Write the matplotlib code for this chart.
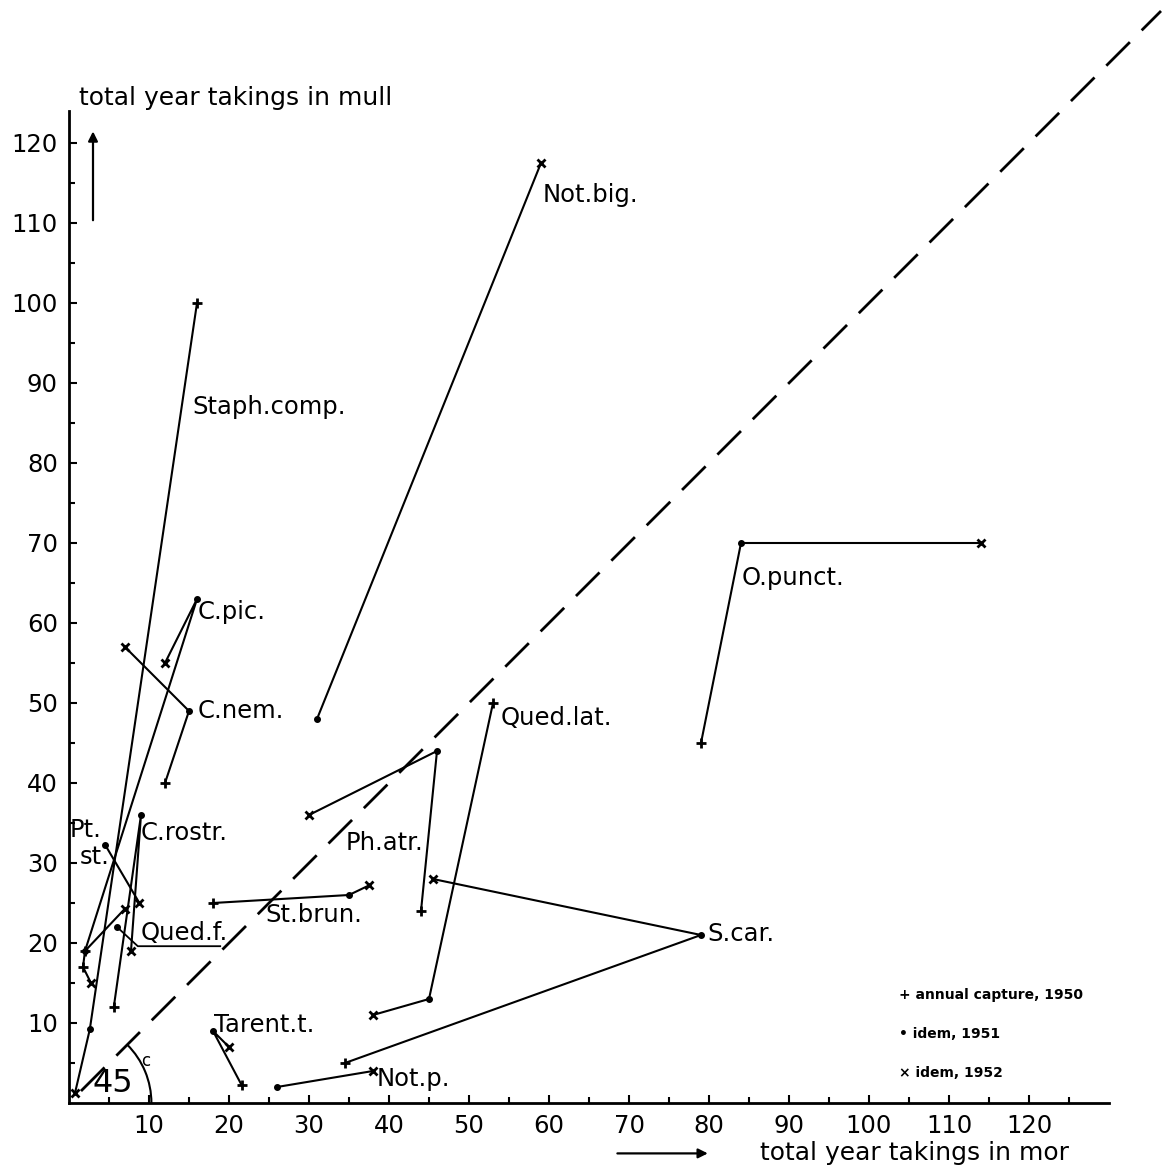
import numpy as np
import matplotlib.pyplot as plt
from matplotlib.patches import Arc

# annual captures per species: mor (x) vs mull (y); year code 0=1950, 1=1951, 2=1952
names = ['Staph.comp.', 'C.pic.', 'C.nem.', 'C.rostr.', 'Pt. st.', 'Qued.f.',
         'St.brun.', 'Ph.atr.', 'Qued.lat.', 'S.car.', 'O.punct.', 'Tarent.t.',
         'Not.p.', 'Not.big.']
mor = [[16, 2.6, 0.75], [2, 16, 12], [12, 15, 7], [5.6, 9, 7.75], [4.5, 8.8],
       [2.75, 1.75, 2.0, 7.0], [18, 35, 37.5], [44, 46, 30], [53, 45, 38],
       [34.5, 79, 45.5], [79, 84, 114], [21.6, 18, 20], [26, 38], [31, 59]]
mull = [[100, 9.2, 1.25], [19, 63, 55], [40, 49, 57], [12, 36, 19], [32.3, 25],
        [15, 17, 19, 24.3], [25, 26, 27.2], [24, 44, 36], [50, 13, 11],
        [5, 21, 28], [45, 70, 70], [2.2, 9, 7], [2, 4], [48, 117.5]]
years = [[0, 1, 2], [0, 1, 2], [0, 1, 2], [0, 1, 2], [1, 2],
         [2, 0, 1, 2], [0, 1, 2], [0, 1, 2], [0, 1, 2],
         [0, 1, 2], [0, 1, 2], [0, 1, 2], [1, 2], [1, 2]]

# label anchors (left edge, vertical centre)
label_x = [15.4, 16.1, 16.1, 9.0, None, 8.9, 24.6, 34.6, 54.0, 79.8, 84.1, 18.1, 38.5, 59.2]
label_y = [87, 61.4, 49, 33.75, None, 21.3, 23.5, 32.5, 48.1, 21.1, 65.6, 9.75, 3.0, 113.5]

ticks = np.arange(10, 130, 10)
legend_txt = ['+ annual capture, 1950', '\u2022 idem, 1951', '\u00d7 idem, 1952']

plt.rcParams['font.family'] = 'DejaVu Sans'
fig = plt.figure(figsize=(11.68, 11.68), dpi=100)
ax = fig.add_axes([69 / 1168, 65 / 1168, 1040 / 1168, 992 / 1168])
ax.set_xlim(0, 130)
ax.set_ylim(0, 124)

for s in ['top', 'right']:
    ax.spines[s].set_visible(False)
for s in ['left', 'bottom']:
    ax.spines[s].set_linewidth(2)

ax.set_xticks(ticks)
ax.set_yticks(ticks)
ax.set_xticks(np.arange(5, 130, 10), minor=True)
ax.set_yticks(np.arange(5, 125, 10), minor=True)
ax.tick_params(which='major', direction='in', length=6, width=1.5, labelsize=17.5, pad=8)
ax.tick_params(which='minor', direction='in', length=4, width=1.5)

# 45 degree reference line
diag = np.array([1.5, 136.5])
ax.plot(diag, diag, color='k', lw=2, dashes=(12, 6), clip_on=False)
ax.add_patch(Arc((0, 0), 20.6, 20.6, theta1=0, theta2=45, lw=1.5, color='k'))
ax.text(2.9, 2.5, '45', fontsize=23, va='center')
ax.text(9.0, 5.3, 'c', fontsize=12, va='center')

marks = {0: dict(marker='+', ms=7, mew=2),
         1: dict(marker='o', ms=4),
         2: dict(marker='x', ms=5.5, mew=2)}

for i in range(len(names)):
    ax.plot(mor[i], mull[i], color='k', lw=1.5, zorder=3)
    for x, y, yr in zip(mor[i], mull[i], years[i]):
        ax.plot(x, y, color='k', ls='none', zorder=4, **marks[yr])
    if label_x[i] is not None:
        ax.text(label_x[i], label_y[i], names[i], fontsize=17.5, va='center')

# Pt. st. label over two lines, Qued.f. leader and underline
ax.text(0.1, 34.1, 'Pt.', fontsize=17.5, va='center')
ax.text(1.3, 30.75, 'st.', fontsize=17.5, va='center')
ax.plot([6, 8.6, 18.9], [22, 19.6, 19.6], color='k', lw=1.3)
ax.plot(6, 22, color='k', **marks[1])

# axis titles and arrows
ax.text(1.2, 125.6, 'total year takings in mull', fontsize=18, va='center')
ax.text(86.4, -6.3, 'total year takings in mor', fontsize=18, va='center')
ax.annotate('', xy=(3, 121.8), xytext=(3, 110),
            arrowprops=dict(arrowstyle='-|>', lw=1.6, color='k', mutation_scale=14))
ax.annotate('', xy=(80.2, -6.3), xytext=(68.2, -6.3), annotation_clip=False,
            arrowprops=dict(arrowstyle='-|>', lw=1.6, color='k', mutation_scale=14))

for j, t in enumerate(legend_txt):
    ax.text(103.8, 13.5 - j * 4.85, t, fontsize=10, fontweight='bold', va='center')

fig.savefig('out.png', dpi=100, facecolor='white')
